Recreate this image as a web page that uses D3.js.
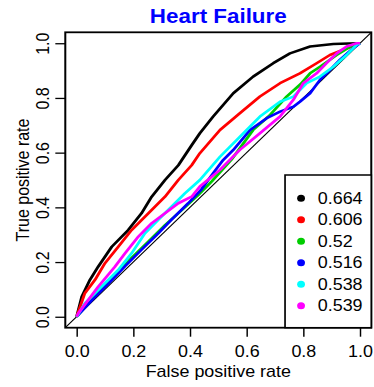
<!DOCTYPE html>
<html>
<head>
<meta charset="UTF-8">
<script src="https://d3js.org/d3.v7.min.js"></script>
<style>
  body { margin: 0; background: #fff; }
  text { font-family: "Liberation Sans", Arial, Helvetica, sans-serif; }
</style>
</head>
<body>
<svg id="chart"></svg>
<script>
// ROC curves, one pair of arrays per model
const fprBlack = [0, 0.018, 0.047, 0.076, 0.124, 0.182, 0.229, 0.265, 0.312, 0.359, 0.406, 0.435, 0.482, 0.553, 0.623, 0.694, 0.753, 0.824, 0.906, 0.96, 1];
const tprBlack = [0, 0.073, 0.135, 0.183, 0.256, 0.317, 0.378, 0.439, 0.500, 0.554, 0.627, 0.671, 0.732, 0.817, 0.878, 0.927, 0.963, 0.988, 0.997, 0.999, 1];

const fprRed = [0, 0.029, 0.065, 0.1, 0.147, 0.194, 0.253, 0.312, 0.359, 0.406, 0.435, 0.506, 0.576, 0.647, 0.718, 0.788, 0.847, 0.894, 0.941, 1];
const tprRed = [0, 0.086, 0.135, 0.196, 0.256, 0.317, 0.378, 0.439, 0.5, 0.554, 0.598, 0.683, 0.744, 0.805, 0.854, 0.890, 0.927, 0.957, 0.976, 1];

const fprGreen = [0, 0.029, 0.076, 0.135, 0.194, 0.253, 0.312, 0.371, 0.429, 0.477, 0.547, 0.623, 0.680, 0.741, 0.790, 0.824, 0.859, 0.918, 0.976, 1];
const tprGreen = [0, 0.035, 0.09, 0.15, 0.215, 0.275, 0.335, 0.39, 0.445, 0.495, 0.575, 0.683, 0.735, 0.805, 0.850, 0.890, 0.914, 0.957, 0.994, 1];

const fprBlue = [0, 0.053, 0.111, 0.171, 0.229, 0.288, 0.335, 0.394, 0.440, 0.482, 0.517, 0.553, 0.612, 0.671, 0.718, 0.765, 0.788, 0.824, 0.859, 0.894, 0.929, 0.976, 1];
const tprBlue = [0, 0.06, 0.12, 0.185, 0.245, 0.305, 0.355, 0.415, 0.465, 0.525, 0.573, 0.610, 0.683, 0.726, 0.750, 0.768, 0.786, 0.817, 0.866, 0.902, 0.939, 0.982, 1];

const fprCyan = [0, 0.029, 0.088, 0.147, 0.194, 0.241, 0.288, 0.335, 0.382, 0.435, 0.506, 0.576, 0.647, 0.718, 0.765, 0.812, 0.859, 0.906, 0.953, 0.988, 1];
const tprCyan = [0, 0.049, 0.110, 0.171, 0.232, 0.305, 0.354, 0.403, 0.451, 0.500, 0.585, 0.658, 0.732, 0.786, 0.805, 0.854, 0.878, 0.914, 0.957, 0.994, 1];

const fprMagenta = [0, 0.006, 0.041, 0.076, 0.135, 0.171, 0.218, 0.265, 0.312, 0.359, 0.406, 0.435, 0.506, 0.576, 0.647, 0.718, 0.765, 0.800, 0.847, 0.882, 0.918, 0.953, 0.988, 1];
const tprMagenta = [0, 0.013, 0.061, 0.110, 0.183, 0.232, 0.293, 0.342, 0.378, 0.415, 0.439, 0.476, 0.537, 0.610, 0.671, 0.732, 0.793, 0.854, 0.890, 0.927, 0.963, 0.988, 1.0, 1];

const aucLabels = ["0.664", "0.606", "0.52", "0.516", "0.538", "0.539"];
const colors = ["#000000", "#ff0000", "#00cd00", "#0000ff", "#00ffff", "#ff00ff"];
const tickValues = [0, 0.2, 0.4, 0.6, 0.8, 1.0];

const series = [
  [fprBlack, tprBlack], [fprRed, tprRed], [fprGreen, tprGreen],
  [fprBlue, tprBlue], [fprCyan, tprCyan], [fprMagenta, tprMagenta]
].map((s, i) => ({ color: colors[i], pts: s[0].map((v, j) => [v, s[1][j]]) }));

// the picture is a bit wider than tall in its text, so draw in a narrower
// viewBox and let it stretch across the window
const K = 1.12;
const width = 374, height = 387;
const svg = d3.select('#chart')
  .attr('width', width).attr('height', height)
  .attr('viewBox', '0 0 ' + (width / K) + ' ' + height)
  .attr('preserveAspectRatio', 'none');

const pLeft = 58.3, pRight = 331.5, pTop = 32.3, pBottom = 327.7;
const x = d3.scaleLinear().domain([-0.04, 1.04]).range([pLeft, pRight]);
const y = d3.scaleLinear().domain([-0.04, 1.04]).range([pBottom, pTop]);

// diagonal
svg.append('line')
  .attr('x1', x(-0.04)).attr('y1', y(-0.04))
  .attr('x2', x(1.04)).attr('y2', y(1.04))
  .attr('stroke', '#000').attr('stroke-width', 1);

const line = d3.line().x(d => x(d[0])).y(d => y(d[1]));
svg.selectAll('path.roc').data(series).enter()
  .append('path').attr('class', 'roc')
  .attr('d', d => line(d.pts))
  .attr('fill', 'none')
  .attr('stroke', d => d.color)
  .attr('stroke-width', 2.6)
  .attr('stroke-linejoin', 'round');

// x axis
const xa = svg.append('g')
  .attr('transform', 'translate(0,' + pBottom + ')')
  .call(d3.axisBottom(x).tickValues(tickValues).tickFormat(d3.format('.1f'))
    .tickSize(9).tickPadding(8.5));
xa.select('.domain').remove();
xa.selectAll('.tick line').attr('stroke', '#000').attr('stroke-width', 1.3);
xa.selectAll('.tick text').attr('font-size', 16).attr('fill', '#000')
  .style('font-family', '"Liberation Sans", Arial, sans-serif');

// y axis, labels turned along the axis
const ya = svg.append('g')
  .attr('transform', 'translate(' + pLeft + ',0)')
  .call(d3.axisLeft(y).tickValues(tickValues).tickFormat(d3.format('.1f'))
    .tickSize(8.9));
ya.select('.domain').remove();
ya.selectAll('.tick line').attr('stroke', '#000').attr('stroke-width', 1.3);
ya.selectAll('.tick text')
  .attr('font-size', 16).attr('fill', '#000')
  .style('font-family', '"Liberation Sans", Arial, sans-serif')
  .attr('text-anchor', 'middle')
  .attr('x', 0).attr('y', -14.3).attr('dy', 0)
  .attr('transform', 'rotate(-90)');

// frame
svg.append('rect')
  .attr('x', pLeft).attr('y', pTop)
  .attr('width', pRight - pLeft).attr('height', pBottom - pTop)
  .attr('fill', 'none').attr('stroke', '#000').attr('stroke-width', 1.8);

// titles
svg.append('text')
  .attr('x', (pLeft + pRight) / 2).attr('y', 23.3)
  .attr('text-anchor', 'middle').attr('font-size', 20).attr('font-weight', 'bold')
  .attr('fill', '#0000ff').text('Heart Failure');

svg.append('text')
  .attr('x', (pLeft + pRight) / 2).attr('y', 377.3)
  .attr('text-anchor', 'middle').attr('font-size', 16)
  .text('False positive rate');

svg.append('text')
  .attr('transform', 'translate(26.2,' + ((pTop + pBottom) / 2) + ') rotate(-90)')
  .attr('text-anchor', 'middle').attr('font-size', 16)
  .text('True positive rate');

// legend
const lg = svg.append('g');
lg.append('rect')
  .attr('x', 254.5).attr('y', 175)
  .attr('width', pRight - 254.5).attr('height', pBottom - 175)
  .attr('fill', '#fff').attr('stroke', '#000').attr('stroke-width', 1.5);

const rows = lg.selectAll('g.row').data(aucLabels).enter()
  .append('g').attr('class', 'row')
  .attr('transform', (d, i) => 'translate(0,' + (198.3 + i * 21.48) + ')');
rows.append('circle')
  .attr('cx', 268.8).attr('cy', 0).attr('r', 3.5)
  .attr('fill', (d, i) => colors[i]);
rows.append('text')
  .attr('x', 283.7).attr('y', 5.7).attr('font-size', 16)
  .text(d => d);
</script>
</body>
</html>
